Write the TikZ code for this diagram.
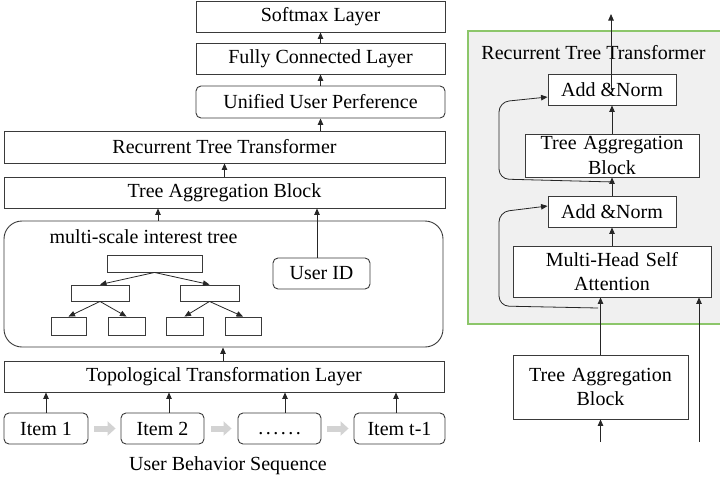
\documentclass[tikz,border=0pt]{standalone}
\usepackage{fontspec}
\setmainfont{Liberation Serif}
\usetikzlibrary{arrows.meta}
\definecolor{boxline}{HTML}{3A3A3A}
\definecolor{panelgreen}{HTML}{8CC66A}
\definecolor{panelfill}{HTML}{F0F0F0}
\definecolor{seqgray}{HTML}{D3D3D3}
\tikzset{
  box/.style={draw=boxline, line width=0.9pt, fill=white, inner sep=0pt,
    align=center, font=\fontsize{20}{24.5}\selectfont},
  rbox/.style={box, rounded corners=5pt},
  leaf/.style={draw=boxline, line width=0.9pt, fill=white, inner sep=0pt},
  arr/.style={draw=black!85, line width=0.8pt, -{Triangle[length=6.5pt,width=5.5pt]}},
  seqarr/.style={draw=seqgray, line width=6pt, -{Triangle[length=8pt,width=14pt]}},
  lbl/.style={inner sep=0pt, font=\fontsize{20}{24}\selectfont}
}
\begin{document}
\begin{tikzpicture}[x=1pt,y=-1pt]
\useasboundingbox (0,0) rectangle (720,482);

% ---------- left: overall model ----------
\node[box, minimum width=249, minimum height=31] (soft) at (320.5,16.5) {Softmax Layer};
\node[box, minimum width=249, minimum height=31] (fc) at (320.5,58.5) {Fully Connected Layer};
\node[rbox, minimum width=249, minimum height=32] (uup) at (320.5,102) {Unified User Perference};
\node[box, minimum width=441, minimum height=32] (rtt) at (224.5,147) {Recurrent Tree Transformer};
\node[box, minimum width=441, minimum height=31] (tab) at (224.5,192.5) {Tree Aggregation Block};

% multi-scale interest tree container
\node[draw=boxline, line width=0.9pt, rounded corners=18pt, minimum width=439,
  minimum height=126, inner sep=0pt] (big) at (223.5,284) {};
\node[lbl] (mslabel) at (143.5,237) {multi-scale interest tree};

\node[leaf, minimum width=95, minimum height=17] (root) at (154.5,263.5) {};
\node[leaf, minimum width=58, minimum height=16] (la) at (100,293) {};
\node[leaf, minimum width=59, minimum height=16] (lb) at (209.5,293) {};
\node[leaf, minimum width=35, minimum height=18] (ma) at (68.5,326) {};
\node[leaf, minimum width=37, minimum height=18] (mb) at (126.5,326) {};
\node[leaf, minimum width=37, minimum height=18] (mc) at (184.5,326) {};
\node[leaf, minimum width=36, minimum height=18] (md) at (243,326) {};
\draw[arr] (root.south) -- (la.north);
\draw[arr] (root.south) -- (lb.north);
\draw[arr] (la.south) -- (ma.north);
\draw[arr] (la.south) -- (mb.north);
\draw[arr] (lb.south) -- (mc.north);
\draw[arr] (lb.south) -- (md.north);

\node[rbox, minimum width=97, minimum height=31] (uid) at (321.5,273.5) {User ID};

\node[box, minimum width=440, minimum height=31] (ttl) at (224,376.5) {Topological Transformation Layer};

\node[rbox, minimum width=84, minimum height=31] (it1) at (46,428.5) {Item 1};
\node[rbox, minimum width=83, minimum height=31] (it2) at (162.5,428.5) {Item 2};
\node[rbox, minimum width=83, minimum height=31] (itd) at (279.5,428.5) {\vphantom{Item}.\kern2.5pt.\kern2.5pt.\kern2.5pt.\kern2.5pt.\kern2.5pt.};
\node[rbox, minimum width=91, minimum height=31] (itn) at (399.5,428.5) {Item t-1};
\node[lbl] (seqlabel) at (228,466) {User Behavior Sequence};

% sequence order
\draw[seqarr, shorten <=6pt, shorten >=5pt] (it1.east) -- (it2.west);
\draw[seqarr, shorten <=7pt, shorten >=6pt] (it2.east) -- (itd.west);
\draw[seqarr, shorten <=6pt, shorten >=5pt] (itd.east) -- (itn.west);

% attachment points of the upward connectors
\coordinate (p1) at (it1.north);
\coordinate (p2) at ([xshift=6.5pt]it2.north);
\coordinate (p3) at ([xshift=5.5pt]itd.north);
\coordinate (p4) at ([xshift=-3.5pt]itn.north);
\coordinate (pt) at ([xshift=-1pt]ttl.north);
\coordinate (pb) at (158,221);
\coordinate (pu) at ([xshift=-4.5pt]uid.north);

% upward flow
\draw[arr] (p1) -- (p1 |- ttl.south);
\draw[arr] (p2) -- (p2 |- ttl.south);
\draw[arr] (p3) -- (p3 |- ttl.south);
\draw[arr] (p4) -- (p4 |- ttl.south);
\draw[arr] (pt) -- (pt |- big.south);
\draw[arr] (pb |- big.north) -- (pb |- tab.south);
\draw[arr] (pu) -- (pu |- tab.south);
\draw[arr] (tab.north) -- (rtt.south);
\draw[arr] (uup.south |- rtt.north) -- (uup.south);
\draw[arr] (uup.north) -- (fc.south);
\draw[arr] (fc.north) -- (soft.south);

% ---------- right: recurrent tree transformer detail ----------
\fill[panelfill] (468,31) rectangle (720,324);
\draw[panelgreen, line width=1.2pt] (721,31) -- (468,31) -- (468,324) -- (721,324);
\node[lbl] (rttlabel) at (593.5,52.5) {Recurrent Tree Transformer};

\node[box, minimum width=128, minimum height=31] (an2) at (612,89.5) {Add \&Norm};
\node[box, minimum width=174, minimum height=43, text width=174] (tabi) at (612,155.5) {Tree Aggregation\\Block};
\node[box, minimum width=128, minimum height=31] (an1) at (612,211.5) {Add \&Norm};
\node[box, minimum width=198, minimum height=51, text width=198] (mhsa) at (612,271.5) {Multi-Head Self\\Attention};
\node[box, minimum width=175, minimum height=64, text width=175] (tabb) at (600.5,387) {Tree Aggregation\\Block};

\coordinate (out) at (611,14);
\coordinate (inA) at (600.5,442);
\coordinate (inB) at (699,442);
\coordinate (resA) at (598,308);
\coordinate (resB) at (614,182);

\draw[arr] (an2.center -| out) -- (out);
\draw[arr] (tabi.north) -- (an2.south);
\draw[arr] (an1.north) -- (tabi.south);
\draw[arr] (mhsa.north) -- (an1.south);
\draw[arr] (tabb.north) -- (tabb.north |- mhsa.south);
\draw[arr] (inA) -- (tabb.south);
\draw[arr] (inB) -- (inB |- mhsa.south);

% residual connections
\draw[arr, rounded corners=10pt] (resA) -- (499,306) -- (499,212) -- ([yshift=5.5pt]an1.west);
\draw[arr, rounded corners=10pt] (resB) -- (499,179) -- (499,102) -- ([yshift=-7.5pt]an2.west);
\end{tikzpicture}
\end{document}
